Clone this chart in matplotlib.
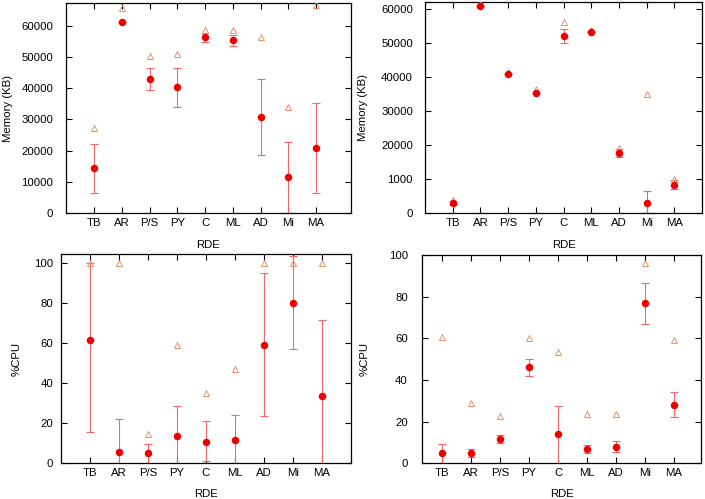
import numpy as np
import matplotlib
matplotlib.use('Agg')
import matplotlib.pyplot as plt

plt.rcParams['font.family'] = ['Liberation Sans', 'DejaVu Sans']
plt.rcParams['font.size'] = 8.2

rde = ['TB', 'AR', 'P/S', 'PY', 'C', 'ML', 'AD', 'Mi', 'MA']

# memoria, panel superior izquierdo
mem1_mean = [14500, 61200, 42800, 40300, 56200, 55300, 30700, 11600, 21000]
mem1_low = [6400, 61200, 39300, 34100, 54900, 53600, 18500, 0, 6600]
mem1_high = [22300, 61200, 46400, 46600, 57700, 57000, 42900, 22900, 35100]
mem1_max = [27400, 65700, 50300, 50900, 58600, 58600, 56200, 34000, 66700]

# memoria, panel superior derecho
mem2_mean = [3000, 60700, 40800, 35400, 52000, 53000, 17700, 3100, 8300]
mem2_low = [2500, 60700, 40800, 35400, 49800, 53000, 16600, 0, 7000]
mem2_high = [3500, 60700, 40800, 35400, 54000, 53000, 18800, 6400, 9800]
mem2_max = [3900, 61300, 41300, 36300, 56000, 53600, 19200, 35100, 10000]
mem2_ticklabels = ['0', '1000', '20000', '30000', '40000', '50000', '60000']

# CPU, panel inferior izquierdo
cpu1_mean = [61.7, 5.8, 5.2, 13.5, 10.8, 11.7, 59.3, 80.3, 33.7]
cpu1_low = [15.8, 0, 0, 0, 1.2, 0, 23.7, 57.3, 0]
cpu1_high = [100, 22, 9.5, 28.5, 21, 24.2, 95.2, 103.5, 71.5]
cpu1_max = [100, 100, 14.7, 59.3, 35.3, 47, 100, 100, 100]

# CPU, panel inferior derecho
cpu2_mean = [4.8, 5.0, 11.7, 46.1, 14.0, 7.1, 8.0, 76.9, 28.1]
cpu2_low = [0, 3.0, 9.6, 42.1, 0, 5.1, 5.3, 67.1, 22.3]
cpu2_high = [9.1, 6.9, 13.6, 50.2, 27.6, 9.0, 10.9, 86.4, 34.2]
cpu2_max = [60.8, 29.2, 22.8, 60.0, 53.5, 23.6, 23.6, 96.1, 59.2]

x = np.arange(1, len(rde) + 1)

fig = plt.figure(figsize=(7.05, 4.99), dpi=100)
ax1 = fig.add_axes([0.0932, 0.5725, 0.4043, 0.422])
ax2 = fig.add_axes([0.6028, 0.5725, 0.393, 0.424])
ax3 = fig.add_axes([0.0865, 0.0715, 0.411, 0.4194])
ax4 = fig.add_axes([0.598, 0.0715, 0.397, 0.4174])


def panel(ax, mean, low, high, mx, ylabel, ypad, ylab_x):
    mean = np.array(mean)
    err = [mean - np.array(low), np.array(high) - mean]
    ax.errorbar(x, mean, yerr=err, fmt='none', ecolor='#f06868', elinewidth=0.8,
                capsize=3, capthick=0.8, zorder=2)
    ax.plot(x, mx, '^', mfc='none', mec='#e8906c', ms=4.4, mew=0.7, zorder=3)
    ax.plot(x, mean, 'o', color='#ee0000', ms=4.4, zorder=4)
    ax.set_xticks(x)
    ax.set_xticklabels(rde)
    ax.set_xlabel('RDE')
    ax.set_ylabel(ylabel)
    ax.xaxis.set_label_coords(0.5, -0.125)
    ax.yaxis.set_label_coords(ylab_x, 0.5)
    ax.tick_params(direction='in', length=4, width=0.8, top=True, right=True)
    ax.tick_params(axis='x', pad=3.4)
    ax.tick_params(axis='y', pad=ypad)
    for s in ax.spines.values():
        s.set_linewidth(0.9)


panel(ax1, mem1_mean, mem1_low, mem1_high, mem1_max, 'Memory (KB)', 8.9, -0.185)
ax1.set_ylim(0, 67300)
ax1.set_xlim(-0.03, 10.25)
ax1.set_yticks(np.arange(0, 60001, 10000))

panel(ax2, mem2_mean, mem2_low, mem2_high, mem2_max, 'Memory (KB)', 8.6, -0.207)
ax2.set_ylim(0, 62000)
ax2.set_xlim(0, 10)
ax2.set_yticks(np.arange(0, 60001, 10000))
ax2.set_yticklabels(mem2_ticklabels)

panel(ax3, cpu1_mean, cpu1_low, cpu1_high, cpu1_max, '%CPU', 5.5, -0.136)
ax3.set_ylim(0, 104.6)
ax3.set_xlim(0, 10)
ax3.set_yticks(np.arange(0, 101, 20))

panel(ax4, cpu2_mean, cpu2_low, cpu2_high, cpu2_max, '%CPU', 9.9, -0.186)
ax4.set_ylim(0, 100)
ax4.set_xlim(0.29, 9.95)
ax4.set_yticks(np.arange(0, 101, 20))

fig.savefig('out.png', dpi=100)
